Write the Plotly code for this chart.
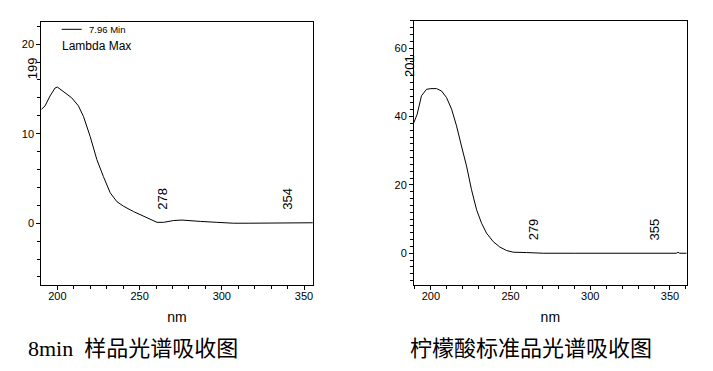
import plotly.graph_objects as go

# Left panel: 8min sample spectrum
nm_a = [190.2, 192.5, 195.5, 198.6, 200, 203.7, 208.7, 212.8, 215.9, 219.9, 224, 228, 232.1,
        236.2, 240.2, 246.3, 252.4, 257.5, 260.6, 264.6, 270.7, 275.8, 280.9, 287, 297, 307,
        317, 327.6, 337, 347, 355.7]
abs_a = [12.7, 13.1, 14.2, 15.1, 15.2, 14.7, 14.0, 13.1, 11.9, 9.7, 7.1, 5.2, 3.4,
         2.4, 1.9, 1.3, 0.75, 0.3, 0.1, 0.1, 0.3, 0.35, 0.25, 0.2, 0.1, 0.0,
         0.0, 0.0, 0.05, 0.05, 0.05]

# Right panel: citric acid standard spectrum
nm_b = [189.3, 191.4, 194.1, 197.3, 200, 203.6, 206.7, 209.8, 213, 216.1, 219.2, 222.4, 225.5,
        228.7, 231.8, 234.9, 239.1, 243.3, 247.5, 251.7, 260, 270.5, 290, 320, 354, 355, 356, 360.5]
abs_b = [38.2, 40.7, 46.1, 48.0, 48.2, 48.2, 47.5, 45.6, 42.2, 37.3, 31.4, 25.5, 18.6,
         12.7, 8.8, 5.9, 3.4, 1.8, 0.8, 0.3, 0.2, 0.0, 0.0, 0.0, 0.0, 0.3, 0.0, 0.0]

peaks_a = [199, 278, 354]
peaks_a_y = [17.3, 2.7, 2.7]
peaks_b = [201, 279, 355]
peaks_b_y = [54.9, 6.9, 6.9]
label_offset = -14.5

caption_a = "8min  样品光谱吸收图"
caption_b = "柠檬酸标准品光谱吸收图"

xr_a = [190.2, 355.3]
yr_a = [-6.9, 22.5]
xr_b = [189.4, 360.5]
yr_b = [-9.3, 68]

fig = go.Figure()
fig.add_trace(go.Scatter(x=nm_a, y=abs_a, mode="lines", line=dict(color="black", width=1),
                         xaxis="x", yaxis="y", showlegend=False))
fig.add_trace(go.Scatter(x=nm_b, y=abs_b, mode="lines", line=dict(color="black", width=1),
                         xaxis="x2", yaxis="y2", showlegend=False))

axfont = dict(family="Arial, Liberation Sans", size=11, color="black")
common_x = dict(showgrid=False, zeroline=False, showline=True, linecolor="black", linewidth=1,
                mirror=True, ticks="outside", ticklen=4, tickcolor="black", dtick=50,
                tickfont=axfont, automargin=False, ticklabelstandoff=-3,
                minor=dict(ticks="outside", ticklen=3, dtick=10, tickcolor="black", tickwidth=1),
                title=dict(text="nm", font=dict(family="Arial, Liberation Sans", size=14, color="black"),
                           standoff=10))
common_y = dict(showgrid=False, zeroline=False, showline=True, linecolor="black", linewidth=1,
                mirror=True, ticks="outside", ticklen=4, tickcolor="black", tickfont=axfont,
                automargin=False)

fig.update_layout(
    template="none",
    width=713, height=371, margin=dict(l=0, r=0, t=0, b=0, autoexpand=False),
    paper_bgcolor="white", plot_bgcolor="white",
    xaxis=dict(common_x, domain=[0.0579, 0.4386], range=xr_a, anchor="y"),
    yaxis=dict(common_y, domain=[0.2318, 0.9415], range=yr_a, dtick=10, anchor="x",
               minor=dict(ticks="outside", ticklen=3, dtick=2, tickcolor="black", tickwidth=1)),
    xaxis2=dict(common_x, domain=[0.5806, 0.9631], range=xr_b, anchor="y2"),
    yaxis2=dict(common_y, domain=[0.2318, 0.9434], range=yr_b, dtick=20, anchor="x2",
                minor=dict(ticks="outside", ticklen=3, dtick=2, tickcolor="black", tickwidth=1)),
)


def frac(v, r):
    return (v - r[0]) / (r[1] - r[0])


lblfont = dict(family="Arial, Liberation Sans", size=13, color="black")
ann = []
for p, yv in zip(peaks_a, peaks_a_y):
    ann.append(dict(x=frac(p + label_offset, xr_a), y=frac(yv, yr_a), xref="x domain", yref="y domain",
                    xanchor="center", yanchor="middle",
                    text=str(p), textangle=-90, showarrow=False, font=lblfont))
for p, yv in zip(peaks_b, peaks_b_y):
    ann.append(dict(x=frac(p + label_offset, xr_b), y=frac(yv, yr_b), xref="x2 domain", yref="y2 domain",
                    xanchor="center", yanchor="middle",
                    text=str(p), textangle=-90, showarrow=False, font=lblfont))

# legend-like text in left panel
ann.append(dict(x=0.1215, y=1 - 29.3 / 371, xref="paper", yref="paper", text="7.96 Min",
                xanchor="left", yanchor="middle", showarrow=False,
                font=dict(family="Arial, Liberation Sans", size=9.5, color="black")))
ann.append(dict(x=0.0845, y=1 - 46 / 371, xref="paper", yref="paper", text="Lambda Max",
                xanchor="left", yanchor="middle", showarrow=False,
                font=dict(family="Arial, Liberation Sans", size=12, color="black")))

# captions
capfont = dict(family="Liberation Serif, Noto Sans CJK SC", size=22, color="black")
ann.append(dict(x=26 / 713, y=1 - 348 / 371, xref="paper", yref="paper", text=caption_a,
                xanchor="left", yanchor="middle", showarrow=False, font=capfont))
ann.append(dict(x=408 / 713, y=1 - 348 / 371, xref="paper", yref="paper", text=caption_b,
                xanchor="left", yanchor="middle", showarrow=False, font=capfont))

fig.update_layout(annotations=ann,
                  shapes=[dict(type="line", xref="paper", yref="paper",
                               x0=61.7 / 713, x1=81.7 / 713, y0=1 - 29.3 / 371, y1=1 - 29.3 / 371,
                               line=dict(color="black", width=1))])

fig.write_html("out.html", config={"displayModeBar": False, "staticPlot": True},
               post_script="document.body.style.margin='0';")
